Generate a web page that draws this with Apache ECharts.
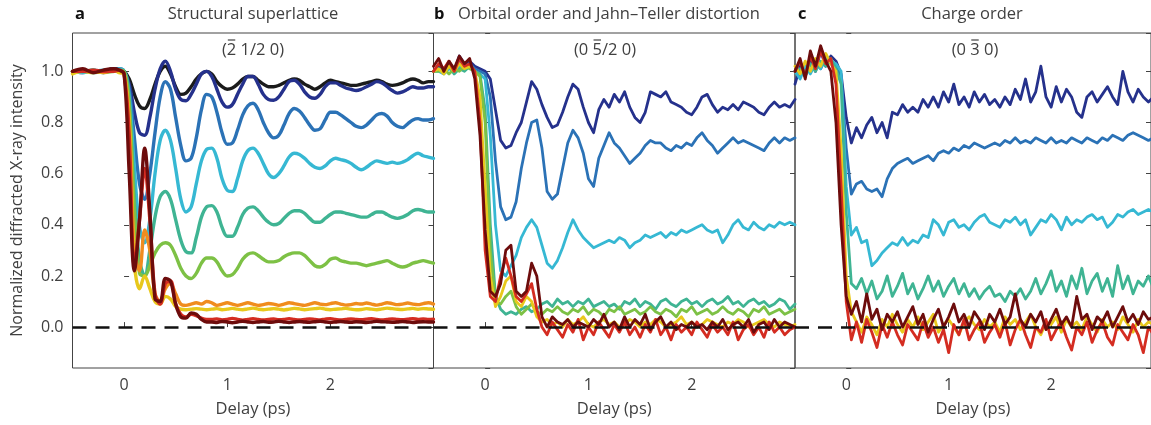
<!DOCTYPE html>
<html>
<head>
<meta charset="utf-8">
<script src="https://cdn.jsdelivr.net/npm/echarts@6/dist/echarts.min.js"></script>
<style>
html, body { margin: 0; padding: 0; background: #fff; }
#chart { width: 1151px; height: 425px; }
</style>
</head>
<body>
<div id="chart"></div>
<script>
// ---- data ----
// panel a: (2 1/2 0) structural superlattice
var timesA = [-0.5,-0.4,-0.3,-0.2,-0.1,-0.05,
  0,0.05,0.1,0.15,0.2,0.25,0.3,0.35,0.4,0.45,0.5,0.55,0.6,0.65,0.7,0.75,0.8,
  0.85,0.9,0.95,1.0,1.05,1.1,1.15,1.2,1.25,1.3,1.35,1.4,1.45,1.5,1.55,1.6,1.65,1.7,1.75,1.8,
  1.85,1.9,1.95,2.0,2.05,2.1,2.15,2.2,2.25,2.3,2.35,2.4,2.45,2.5,2.55,2.6,2.65,2.7,2.75,2.8,
  2.85,2.9,2.95,3.0];

var aBlack = [1.00,1.005,0.995,1.00,1.01,1.005,
  1.00,0.97,0.91,0.865,0.855,0.89,0.95,1.00,1.02,0.99,0.94,0.91,0.915,0.94,0.97,0.99,1.00,
  0.99,0.96,0.94,0.93,0.935,0.95,0.97,0.98,0.98,0.965,0.95,0.94,0.94,0.945,0.955,0.965,0.97,0.965,0.95,0.94,
  0.93,0.94,0.955,0.965,0.96,0.955,0.95,0.945,0.945,0.95,0.955,0.96,0.965,0.96,0.95,0.945,0.948,0.955,0.965,0.97,
  0.965,0.955,0.96,0.96];
var aNavy = [1.00,0.995,1.005,1.00,1.01,1.01,
  1.00,0.95,0.84,0.76,0.75,0.82,0.93,1.01,1.04,1.00,0.93,0.89,0.885,0.91,0.95,0.99,1.00,
  0.98,0.93,0.88,0.86,0.87,0.91,0.95,0.98,0.98,0.95,0.91,0.89,0.887,0.90,0.93,0.96,0.965,0.95,0.92,0.90,
  0.895,0.91,0.94,0.955,0.955,0.945,0.935,0.93,0.925,0.93,0.94,0.95,0.96,0.955,0.94,0.925,0.915,0.92,0.93,0.94,
  0.935,0.935,0.94,0.94];
var aBlue = [1.00,1.00,1.005,0.995,1.01,1.005,
  1.00,0.93,0.74,0.56,0.50,0.60,0.76,0.90,0.96,0.93,0.82,0.71,0.65,0.66,0.74,0.85,0.91,
  0.90,0.84,0.76,0.715,0.72,0.77,0.83,0.865,0.875,0.85,0.80,0.76,0.74,0.75,0.79,0.835,0.855,0.845,0.82,0.79,
  0.77,0.775,0.81,0.84,0.84,0.83,0.815,0.80,0.785,0.78,0.79,0.81,0.83,0.835,0.825,0.80,0.785,0.78,0.795,0.81,
  0.815,0.81,0.81,0.815];
var aCyan = [1.00,0.995,1.00,1.005,1.00,1.01,
  1.00,0.90,0.62,0.39,0.33,0.42,0.60,0.73,0.77,0.73,0.62,0.50,0.45,0.47,0.56,0.65,0.695,
  0.70,0.66,0.58,0.535,0.53,0.58,0.65,0.69,0.70,0.68,0.64,0.60,0.585,0.60,0.63,0.665,0.68,0.675,0.66,0.64,
  0.625,0.62,0.63,0.65,0.66,0.655,0.65,0.64,0.625,0.615,0.625,0.64,0.65,0.645,0.64,0.645,0.64,0.645,0.655,0.67,
  0.68,0.67,0.665,0.66];
var aTeal = [1.00,1.005,0.995,1.00,1.005,1.00,
  1.00,0.88,0.50,0.26,0.20,0.30,0.43,0.51,0.53,0.50,0.42,0.34,0.295,0.29,0.35,0.43,0.47,
  0.475,0.45,0.39,0.355,0.355,0.39,0.44,0.465,0.47,0.455,0.43,0.41,0.40,0.405,0.425,0.445,0.455,0.455,0.445,0.425,
  0.41,0.41,0.425,0.44,0.45,0.45,0.445,0.44,0.435,0.43,0.43,0.44,0.45,0.45,0.44,0.43,0.425,0.43,0.44,0.455,
  0.46,0.455,0.45,0.45];
var aGreen = [1.00,1.00,1.005,0.995,1.00,1.005,
  1.00,0.87,0.45,0.21,0.20,0.24,0.29,0.32,0.33,0.32,0.28,0.23,0.20,0.19,0.21,0.25,0.27,
  0.27,0.255,0.22,0.20,0.205,0.23,0.265,0.285,0.29,0.28,0.265,0.255,0.255,0.26,0.275,0.285,0.29,0.29,0.28,0.26,
  0.24,0.235,0.245,0.265,0.27,0.26,0.255,0.25,0.25,0.245,0.24,0.245,0.25,0.255,0.26,0.25,0.24,0.235,0.24,0.25,
  0.255,0.26,0.255,0.25];
var aOrange = [1.00,1.005,1.00,0.995,1.005,1.00,
  0.99,0.80,0.30,0.22,0.38,0.30,0.13,0.10,0.15,0.17,0.13,0.09,0.085,0.09,0.095,0.09,0.10,
  0.095,0.085,0.09,0.095,0.09,0.085,0.09,0.095,0.09,0.085,0.088,0.092,0.09,0.085,0.09,0.095,0.092,0.088,0.085,0.09,
  0.095,0.09,0.088,0.092,0.095,0.09,0.086,0.088,0.092,0.09,0.094,0.09,0.086,0.09,0.095,0.092,0.088,0.09,0.094,0.09,
  0.088,0.092,0.095,0.09];
var aYellow = [0.99,1.00,0.995,1.00,1.005,0.995,
  0.99,0.80,0.25,0.15,0.20,0.15,0.10,0.09,0.12,0.11,0.08,0.07,0.068,0.07,0.072,0.07,0.068,
  0.07,0.072,0.068,0.07,0.073,0.07,0.068,0.071,0.074,0.07,0.068,0.07,0.072,0.07,0.067,0.07,0.073,0.071,0.068,0.07,
  0.072,0.074,0.07,0.068,0.07,0.071,0.073,0.07,0.068,0.069,0.072,0.07,0.068,0.071,0.074,0.072,0.07,0.069,0.071,0.073,
  0.07,0.072,0.071,0.07];
var aRed = [1.00,1.00,1.005,1.00,1.00,1.005,
  0.99,0.75,0.24,0.42,0.62,0.42,0.13,0.09,0.17,0.18,0.09,0.05,0.04,0.05,0.045,0.035,0.03,
  0.03,0.032,0.028,0.03,0.034,0.03,0.027,0.03,0.033,0.03,0.028,0.03,0.032,0.029,0.03,0.033,0.03,0.028,0.03,0.032,
  0.03,0.028,0.031,0.033,0.03,0.028,0.03,0.032,0.03,0.029,0.031,0.033,0.03,0.028,0.03,0.032,0.03,0.029,0.031,0.033,
  0.03,0.032,0.03,0.031];
var aDarkRed = [1.00,1.01,0.995,1.005,1.01,1.005,
  0.99,0.60,0.22,0.42,0.70,0.45,0.11,0.10,0.19,0.18,0.09,0.04,0.035,0.055,0.05,0.03,0.02,
  0.02,0.018,0.022,0.02,0.017,0.02,0.023,0.02,0.018,0.02,0.022,0.019,0.02,0.023,0.02,0.018,0.02,0.022,0.02,0.019,
  0.021,0.023,0.02,0.018,0.02,0.022,0.02,0.019,0.021,0.02,0.018,0.02,0.023,0.021,0.02,0.019,0.02,0.022,0.02,0.018,
  0.02,0.021,0.02,0.02];

// panels b and c share one time grid
var timesBC = [-0.5,-0.45,-0.4,-0.35,-0.3,-0.25,-0.2,-0.15,-0.1,-0.05,
  0,0.05,0.1,0.15,0.2,0.25,0.3,0.35,0.4,0.45,
  0.5,0.55,0.6,0.65,0.7,0.75,0.8,0.85,0.9,0.95,
  1.0,1.05,1.1,1.15,1.2,1.25,1.3,1.35,1.4,1.45,
  1.5,1.55,1.6,1.65,1.7,1.75,1.8,1.85,1.9,1.95,
  2.0,2.05,2.1,2.15,2.2,2.25,2.3,2.35,2.4,2.45,
  2.5,2.55,2.6,2.65,2.7,2.75,2.8,2.85,2.9,2.95,
  3.0];

// panel b: (0 5/2 0) orbital order
var bNavy = [1.00,1.02,1.01,1.03,1.00,1.06,1.03,1.04,1.02,1.01,
  1.00,0.97,0.85,0.73,0.70,0.71,0.76,0.80,0.88,0.96,
  0.93,0.87,0.82,0.78,0.79,0.84,0.90,0.95,0.93,0.86,
  0.80,0.76,0.85,0.89,0.86,0.91,0.88,0.92,0.86,0.82,
  0.80,0.84,0.92,0.91,0.90,0.92,0.88,0.87,0.86,0.84,
  0.83,0.86,0.90,0.91,0.87,0.84,0.86,0.85,0.87,0.85,
  0.88,0.87,0.86,0.84,0.83,0.86,0.88,0.86,0.87,0.86,
  0.89];
var bBlue = [1.00,1.01,1.00,1.02,1.01,1.04,1.02,1.03,1.01,1.00,
  0.99,0.90,0.65,0.47,0.42,0.43,0.49,0.62,0.72,0.80,
  0.81,0.70,0.53,0.50,0.52,0.62,0.72,0.77,0.74,0.68,
  0.58,0.55,0.66,0.71,0.76,0.72,0.70,0.67,0.64,0.66,
  0.68,0.71,0.73,0.72,0.72,0.70,0.69,0.71,0.70,0.72,
  0.71,0.74,0.76,0.73,0.71,0.68,0.70,0.72,0.74,0.72,
  0.73,0.72,0.71,0.70,0.69,0.72,0.74,0.72,0.74,0.73,
  0.74];
var bCyan = [1.00,1.00,0.99,1.01,1.00,1.02,1.01,1.02,1.00,0.99,
  0.97,0.75,0.40,0.22,0.20,0.24,0.28,0.35,0.39,0.42,
  0.39,0.32,0.25,0.23,0.26,0.31,0.37,0.42,0.38,0.35,
  0.33,0.31,0.32,0.33,0.34,0.33,0.35,0.34,0.31,0.33,
  0.34,0.36,0.35,0.36,0.37,0.35,0.37,0.36,0.38,0.37,
  0.38,0.39,0.40,0.38,0.37,0.38,0.33,0.36,0.40,0.42,
  0.39,0.38,0.41,0.39,0.38,0.40,0.39,0.41,0.40,0.41,
  0.40];
var bTeal = [1.00,1.01,1.00,1.02,0.99,1.01,1.00,1.02,1.00,0.99,
  0.85,0.40,0.12,0.07,0.05,0.06,0.05,0.07,0.08,0.06,
  0.07,0.09,0.10,0.08,0.11,0.09,0.10,0.08,0.10,0.09,
  0.11,0.08,0.09,0.10,0.08,0.09,0.07,0.10,0.09,0.11,
  0.08,0.10,0.09,0.07,0.10,0.11,0.09,0.08,0.10,0.11,
  0.09,0.10,0.08,0.10,0.11,0.09,0.10,0.12,0.09,0.10,
  0.08,0.10,0.11,0.09,0.10,0.08,0.09,0.11,0.10,0.07,
  0.09];
var bGreen = [1.00,1.00,1.01,0.99,1.01,1.00,1.02,1.01,1.00,0.98,
  0.80,0.30,0.10,0.09,0.12,0.14,0.08,0.05,0.07,0.09,
  0.06,0.05,0.07,0.06,0.08,0.06,0.05,0.07,0.06,0.08,
  0.05,0.07,0.06,0.04,0.07,0.06,0.08,0.05,0.06,0.07,
  0.05,0.06,0.08,0.06,0.05,0.07,0.06,0.04,0.07,0.06,
  0.08,0.05,0.06,0.07,0.05,0.06,0.08,0.06,0.05,0.07,
  0.06,0.04,0.07,0.06,0.08,0.05,0.06,0.07,0.05,0.06,
  0.07];
var bYellow = [1.00,1.01,0.99,1.02,1.00,1.03,1.01,1.02,1.00,0.90,
  0.55,0.20,0.08,0.12,0.18,0.20,0.10,0.08,0.12,0.10,
  0.04,0.02,0.03,0.01,0.02,0.00,0.03,0.01,0.02,0.04,
  0.01,0.00,0.02,0.03,0.01,0.02,0.00,0.01,0.03,0.02,
  0.00,0.02,0.01,0.03,0.02,0.00,0.01,0.02,0.04,0.01,
  0.02,0.00,0.01,0.03,0.02,0.01,0.00,0.02,0.01,0.03,
  0.02,0.00,0.01,0.02,0.03,0.01,0.00,0.02,0.01,0.00,
  0.01];
var bRed = [1.00,1.03,1.01,1.04,1.00,1.05,1.02,1.03,1.00,0.80,
  0.30,0.12,0.10,0.20,0.27,0.20,0.12,0.10,0.13,0.17,
  0.07,0.00,-0.03,0.02,-0.01,-0.04,0.01,-0.02,0.03,-0.05,
  0.00,-0.03,0.02,-0.01,-0.04,0.01,-0.02,0.02,-0.03,0.00,
  -0.04,0.01,-0.02,0.03,-0.03,0.00,-0.05,0.01,-0.02,0.00,
  -0.03,0.02,-0.01,-0.04,0.01,-0.02,0.00,-0.03,0.02,-0.05,
  -0.01,0.01,-0.03,0.00,-0.04,0.02,-0.02,0.00,-0.03,-0.01,
  0.00];
var bDarkRed = [1.02,1.05,1.00,1.04,1.01,1.06,1.03,1.05,0.97,0.75,
  0.38,0.14,0.12,0.17,0.30,0.32,0.14,0.12,0.14,0.25,
  0.20,0.04,0.00,0.04,0.02,0.01,0.03,0.00,0.02,0.01,
  0.00,0.03,0.01,0.05,0.00,0.02,-0.01,0.04,0.00,0.03,
  0.01,0.05,-0.01,0.02,0.04,0.00,0.02,-0.01,0.01,0.00,
  0.02,0.00,0.01,-0.01,0.02,0.00,0.03,-0.01,0.01,0.02,
  0.00,0.03,-0.02,0.01,0.02,-0.01,0.03,0.00,0.02,0.01,
  0.00];

// panel c: (0 3 0) charge order
var cNavy = [0.95,1.02,0.98,1.05,1.00,1.08,1.02,1.06,1.04,0.99,
  0.82,0.72,0.78,0.74,0.79,0.82,0.76,0.80,0.74,0.84,
  0.83,0.87,0.84,0.86,0.84,0.89,0.86,0.90,0.86,0.92,
  0.88,0.95,0.87,0.90,0.86,0.92,0.88,0.91,0.87,0.89,
  0.86,0.90,0.87,0.93,0.89,0.97,0.88,0.92,1.02,0.90,
  0.86,0.94,0.88,0.93,0.90,0.84,0.82,0.90,0.92,0.88,
  0.91,0.94,0.90,0.87,1.00,0.92,0.88,0.93,0.90,0.88,
  0.90];
var cBlue = [1.00,0.98,1.02,1.00,1.04,1.01,1.05,1.03,1.02,0.98,
  0.70,0.52,0.56,0.57,0.54,0.53,0.54,0.51,0.58,0.62,
  0.64,0.65,0.66,0.64,0.65,0.66,0.67,0.65,0.68,0.69,
  0.68,0.70,0.69,0.71,0.70,0.72,0.71,0.70,0.71,0.72,
  0.71,0.73,0.72,0.74,0.72,0.73,0.72,0.74,0.73,0.72,
  0.74,0.72,0.73,0.72,0.74,0.73,0.72,0.74,0.73,0.72,
  0.74,0.73,0.75,0.74,0.73,0.75,0.76,0.75,0.74,0.73,
  0.74];
var cCyan = [1.00,0.97,1.02,0.99,1.03,1.01,1.06,1.04,1.03,1.00,
  0.55,0.36,0.39,0.33,0.34,0.24,0.26,0.29,0.31,0.33,
  0.32,0.35,0.32,0.34,0.33,0.36,0.35,0.42,0.40,0.36,
  0.41,0.42,0.39,0.40,0.38,0.41,0.43,0.44,0.41,0.40,
  0.39,0.42,0.41,0.43,0.40,0.42,0.36,0.39,0.42,0.41,
  0.44,0.42,0.38,0.43,0.40,0.42,0.41,0.43,0.44,0.42,
  0.43,0.39,0.41,0.44,0.43,0.45,0.46,0.44,0.45,0.46,
  0.45];
var cTeal = [1.00,1.01,0.98,1.03,1.00,1.04,1.02,1.05,1.01,0.95,
  0.45,0.17,0.15,0.19,0.13,0.18,0.11,0.14,0.20,0.12,
  0.16,0.21,0.13,0.17,0.11,0.15,0.20,0.14,0.18,0.12,
  0.16,0.19,0.13,0.17,0.12,0.15,0.11,0.14,0.16,0.12,
  0.13,0.10,0.14,0.12,0.15,0.11,0.14,0.19,0.13,0.17,
  0.22,0.14,0.18,0.12,0.20,0.15,0.23,0.13,0.18,0.21,
  0.14,0.19,0.12,0.24,0.15,0.20,0.13,0.18,0.16,0.20,
  0.15];
var cYellow = [1.02,0.99,1.04,1.00,1.05,1.02,1.07,1.03,1.00,0.70,
  0.20,0.06,0.02,-0.02,0.04,0.01,-0.03,0.03,0.00,0.05,
  0.01,-0.02,0.03,0.00,0.04,-0.01,0.02,0.05,-0.02,0.01,
  0.03,0.00,-0.03,0.02,0.04,0.01,-0.01,0.03,0.00,0.02,
  -0.02,0.04,0.01,0.03,-0.01,0.02,0.05,0.00,-0.03,0.02,
  0.01,0.04,-0.02,0.03,0.00,0.02,-0.01,0.04,0.01,-0.02,
  0.03,0.00,0.02,-0.01,0.04,0.01,-0.02,0.03,0.00,0.02,
  0.01];
var cRed = [1.00,1.04,0.98,1.06,1.01,1.08,1.03,1.05,0.95,0.55,
  0.10,-0.05,0.02,-0.06,0.03,-0.02,-0.08,0.01,-0.04,0.02,
  -0.03,-0.07,0.01,-0.02,-0.05,0.02,-0.04,0.00,-0.06,-0.01,
  -0.10,0.01,-0.03,0.03,-0.05,-0.01,0.02,-0.06,-0.02,0.01,
  -0.04,0.02,-0.07,-0.01,0.03,-0.03,-0.08,0.00,-0.02,0.03,
  -0.05,-0.01,0.02,-0.04,-0.09,0.00,-0.03,0.02,-0.06,-0.01,
  0.02,-0.04,-0.07,0.01,-0.02,-0.05,0.01,-0.03,-0.10,0.00,
  -0.03];
var cDarkRed = [1.00,1.05,0.97,1.08,1.02,1.10,1.04,1.00,0.80,0.40,
  0.12,0.05,0.10,0.02,0.13,0.03,0.07,-0.01,0.05,0.02,
  0.06,0.00,0.04,0.08,0.01,0.05,-0.02,0.03,0.07,0.00,
  0.04,0.09,0.02,0.05,0.00,0.06,0.03,-0.01,0.05,0.02,
  0.07,0.01,0.04,0.13,0.03,0.00,0.05,0.02,0.06,-0.01,
  0.03,0.07,0.01,0.04,0.00,0.12,0.03,0.05,-0.01,0.04,
  0.02,0.06,0.00,0.04,0.08,0.02,0.05,0.01,0.06,0.03,
  0.04];

var panelTitles = ['Structural superlattice', 'Orbital order and Jahn\u2013Teller distortion', 'Charge order'];
var panelLetters = ['a', 'b', 'c'];
// reflection labels, split round the barred digit
var reflections = [['(', '2', ' 1/2 0)'], ['(0 ', '5', '/2 0)'], ['(0 ', '3', ' 0)']];
var yTitle = 'Normalized diffracted X-ray intensity';
var xTitle = 'Delay (ps)';

// colours
var C = {
  black: '#1b1b1b', navy: '#25318c', blue: '#2b72b6', cyan: '#36b8d3', teal: '#3fb493',
  green: '#7dc145', orange: '#f08c1e', yellow: '#e8c81c', red: '#d42c21', darkred: '#6d0c0c'
};

var FONT = '"Open Sans", "Noto Sans", sans-serif';
var TXT = '#404040';

// layout of the three boxes
var grids = [
  { left: 72.5, top: 33, width: 361, height: 335 },
  { left: 433.5, top: 33, width: 361.5, height: 335 },
  { left: 795, top: 33, width: 357.5, height: 335 }
];
var xMax = [3.0, 3.0, 2.975];

var chart = echarts.init(document.getElementById('chart'));

function line(gi, times, vals, color, width, smooth) {
  var d = [];
  for (var i = 0; i < times.length && i < vals.length; i++) d.push([times[i], vals[i]]);
  return {
    type: 'line', xAxisIndex: gi, yAxisIndex: gi * 2, data: d,
    showSymbol: false, symbol: 'none', smooth: smooth, silent: true,
    lineStyle: { color: color, width: width, cap: 'round', join: 'round' },
    itemStyle: { color: color }
  };
}

var zeroLine = {
  silent: true, symbol: ['none', 'none'], label: { show: false },
  lineStyle: { color: '#111', type: [14, 9], width: 2.5 },
  data: [{ yAxis: 0 }]
};

var series = [];
var setA = [[aBlack, C.black], [aNavy, C.navy], [aBlue, C.blue], [aCyan, C.cyan], [aTeal, C.teal],
  [aGreen, C.green], [aOrange, C.orange], [aYellow, C.yellow], [aRed, C.red], [aDarkRed, C.darkred]];
var setB = [[bNavy, C.navy], [bBlue, C.blue], [bCyan, C.cyan], [bTeal, C.teal], [bGreen, C.green],
  [bYellow, C.yellow], [bRed, C.red], [bDarkRed, C.darkred]];
var setC = [[cNavy, C.navy], [cBlue, C.blue], [cCyan, C.cyan], [cTeal, C.teal],
  [cYellow, C.yellow], [cRed, C.red], [cDarkRed, C.darkred]];

[[setA, timesA, 3.4, 0.35], [setB, timesBC, 2.8, false], [setC, timesBC, 2.8, false]].forEach(function (p, gi) {
  p[0].forEach(function (s, k) {
    var ser = line(gi, p[1], s[0], s[1], p[2], p[3]);
    if (k === 0) ser.markLine = zeroLine;
    series.push(ser);
  });
});

var xAxes = [], yAxes = [];
grids.forEach(function (g, gi) {
  xAxes.push({
    type: 'value', gridIndex: gi, min: -0.5, max: xMax[gi], splitNumber: 3,
    axisLine: { show: false }, splitLine: { show: false },
    axisTick: { inside: true, length: 5, lineStyle: { color: '#444' } },
    axisLabel: { fontFamily: FONT, fontSize: 16, color: TXT, margin: 9, showMinLabel: false, showMaxLabel: false },
    name: xTitle, nameLocation: 'middle', nameGap: 33,
    nameTextStyle: { fontFamily: FONT, fontSize: 16.5, color: TXT }
  });
  var left = {
    type: 'value', gridIndex: gi, min: -0.16, max: 1.15, splitNumber: 6, position: 'left',
    axisLine: { show: false }, splitLine: { show: false },
    axisTick: { inside: true, length: 5, lineStyle: { color: '#444' } },
    axisLabel: { show: gi === 0, fontFamily: FONT, fontSize: 16, color: TXT, margin: 9,
      showMinLabel: false, showMaxLabel: false, formatter: function (v) { return v.toFixed(1); } }
  };
  if (gi === 0) {
    left.name = yTitle;
    left.nameLocation = 'middle';
    left.nameGap = 47;
    left.nameRotate = 90;
    left.nameTextStyle = { fontFamily: FONT, fontSize: 16, color: TXT };
  }
  yAxes.push(left);
  yAxes.push({
    type: 'value', gridIndex: gi, min: -0.16, max: 1.15, splitNumber: 6, position: 'right',
    axisLine: { show: false }, splitLine: { show: false }, axisLabel: { show: false },
    axisTick: { inside: true, length: 5, lineStyle: { color: '#444' } }
  });
});

var graphics = [];
// panel letters and titles
var TFONT = '16.5px ' + FONT;
graphics.push({ type: 'text', style: { x: 75, y: 14, text: panelLetters[0], font: 'bold 16.5px ' + FONT, fill: '#111', verticalAlign: 'middle' } });
graphics.push({ type: 'text', style: { x: 253, y: 14, text: panelTitles[0], font: TFONT, fill: TXT, align: 'center', verticalAlign: 'middle' } });
graphics.push({ type: 'text', style: { x: 434, y: 14, text: panelLetters[1], font: 'bold 16.5px ' + FONT, fill: '#111', verticalAlign: 'middle' } });
graphics.push({ type: 'text', style: { x: 458, y: 14, text: panelTitles[1], font: TFONT, fill: TXT, verticalAlign: 'middle' } });
graphics.push({ type: 'text', style: { x: 798, y: 14, text: panelLetters[2], font: 'bold 16.5px ' + FONT, fill: '#111', verticalAlign: 'middle' } });
graphics.push({ type: 'text', style: { x: 972, y: 14, text: panelTitles[2], font: TFONT, fill: TXT, align: 'center', verticalAlign: 'middle' } });

// reflection labels with an overbar on one digit
var measure = document.createElement('canvas').getContext('2d');
measure.font = TFONT;
[253, 605, 975].forEach(function (cx, i) {
  var parts = reflections[i];
  var w0 = measure.measureText(parts[0]).width;
  var w1 = measure.measureText(parts[1]).width;
  var wAll = measure.measureText(parts.join('')).width;
  var x0 = cx - wAll / 2;
  graphics.push({ type: 'text', style: { x: x0, y: 50, text: parts.join(''), font: TFONT, fill: TXT, verticalAlign: 'middle' } });
  graphics.push({ type: 'line', shape: { x1: x0 + w0 + 1, y1: 40, x2: x0 + w0 + w1 - 1, y2: 40 }, style: { stroke: TXT, lineWidth: 1.2 } });
});

chart.setOption({
  animation: false,
  backgroundColor: '#fff',
  grid: grids.map(function (g) {
    return { left: g.left, top: g.top, width: g.width, height: g.height, show: true,
      borderColor: '#444', borderWidth: 1, backgroundColor: 'transparent', containLabel: false };
  }),
  xAxis: xAxes,
  yAxis: yAxes,
  series: series,
  graphic: graphics
});
</script>
</body>
</html>
